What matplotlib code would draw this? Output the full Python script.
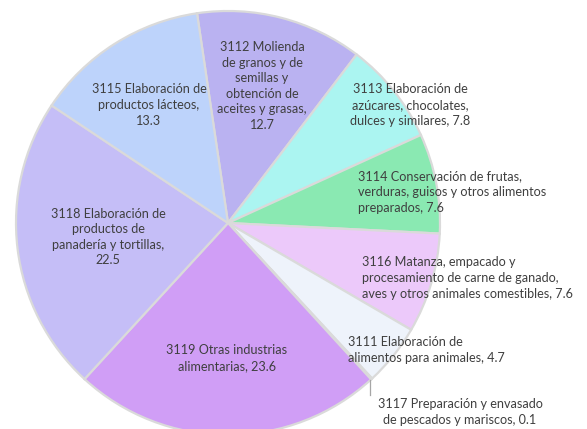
import matplotlib.pyplot as plt

# Data (sector share, %)
codes = ['3112', '3113', '3114', '3116', '3111', '3117', '3119', '3118', '3115']
labels = [
    '3112 Molienda\nde granos y de\nsemillas y\nobtención de\naceites y grasas,\n12.7',
    '3113 Elaboración de\nazúcares, chocolates,\ndulces y similares, 7.8',
    '3114 Conservación de frutas,\nverduras, guisos y otros alimentos\npreparados, 7.6',
    '3116 Matanza, empacado y\nprocesamiento de carne de ganado,\naves y otros animales comestibles, 7.6',
    '3111 Elaboración de\nalimentos para animales, 4.7',
    '3117 Preparación y envasado\nde pescados y mariscos, 0.1',
    '3119 Otras industrias\nalimentarias, 23.6',
    '3118 Elaboración de\nproductos de\npanadería y tortillas,\n22.5',
    '3115 Elaboración de\nproductos lácteos,\n13.3',
]
values = [12.7, 7.8, 7.6, 7.6, 4.7, 0.1, 23.6, 22.5, 13.3]

colors = ['#bab2f1', '#abf5f1', '#8ae9b2', '#ecc9fa', '#eef3fb',
          '#d6d6d6', '#d09ef6', '#c5bef7', '#bdd3fb']

# label layout in pixels (x, y from top), alignment
label_pos = [(262, 86, 'center'), (410, 105, 'center'), (358, 192, 'left'),
             (362, 278, 'left'), (348, 350, 'left'), (460, 412, 'center'),
             (227, 358, 'center'), (108, 237, 'center'), (149, 105, 'center')]

W, H = 587, 429
fig = plt.figure(figsize=(W / 100, H / 100), dpi=100)
ax = fig.add_axes([0, 0, 1, 1])

cx, cy, r = 228, H - 223, 212
ax.pie(values, colors=colors, startangle=98.4, counterclock=False,
       center=(cx, cy), radius=r, frame=True,
       wedgeprops=dict(edgecolor='#dadada', linewidth=1.6))
ax.set_xlim(0, W)
ax.set_ylim(0, H)
ax.set_aspect('equal')
ax.axis('off')

for lab, (x, y, ha) in zip(labels, label_pos):
    ax.text(x, H - y, lab, ha=ha, va='center', fontsize=9.1, family='Lato',
            color='#3f3f3f', linespacing=1.36)

# leader line for the tiny slice
ax.plot([370, 370], [H - 380, H - 395], color='#a6a6a6', lw=0.9)

fig.savefig('out.png', dpi=100)
